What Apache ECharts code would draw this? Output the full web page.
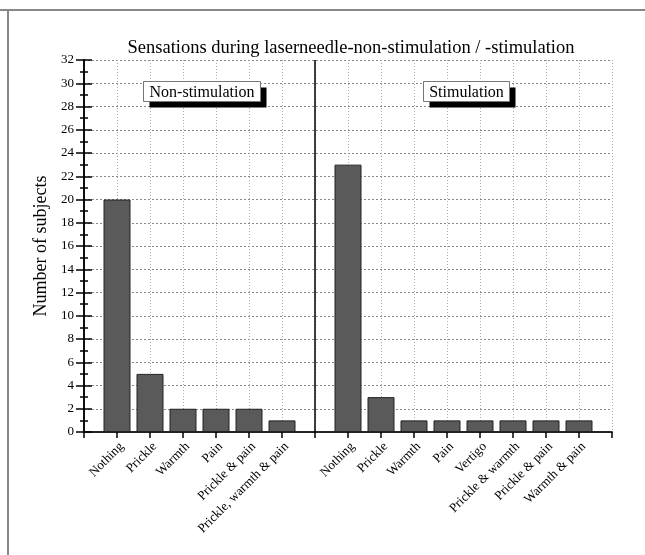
<!DOCTYPE html>
<html>
<head>
<meta charset="utf-8">
<script src="https://cdn.jsdelivr.net/npm/echarts@6/dist/echarts.min.js"></script>
<style>
  html, body { margin: 0; padding: 0; background: #fff; }
  #chart { width: 645px; height: 555px; }
</style>
</head>
<body>
<div id="chart"></div>
<script>
// x positions: 1..6 non-stimulation, 7 = divider, 8..15 stimulation
const nonStimLabels = ["Nothing", "Prickle", "Warmth", "Pain", "Prickle & pain", "Prickle, warmth & pain"];
const nonStimValues = [20, 5, 2, 2, 2, 1];
const stimLabels = ["Nothing", "Prickle", "Warmth", "Pain", "Vertigo", "Prickle & warmth", "Prickle & pain", "Warmth & pain"];
const stimValues = [23, 3, 1, 1, 1, 1, 1, 1];
const dividerPos = 7;
const yTicks = [0, 32, 2];

const serif = "'Liberation Serif', 'DejaVu Serif', serif";

const labelAt = {};
nonStimLabels.forEach((l, i) => labelAt[i + 1] = l);
stimLabels.forEach((l, i) => labelAt[dividerPos + 1 + i] = l);

const barData = [
  ...nonStimValues.map((v, i) => [i + 1, v]),
  ...stimValues.map((v, i) => [dividerPos + 1 + i, v]),
];
const xMax = dividerPos + stimLabels.length + 1;

const chart = echarts.init(document.getElementById("chart"));

// boxed captions with a hard black drop shadow
function caption(x, y, w, h, text) {
  return {
    type: "group", left: x, top: y, z: 100,
    children: [
      { type: "rect", z: 100, shape: { x: 6, y: 6, width: w, height: h }, style: { fill: "#000" } },
      { type: "rect", z: 101, shape: { x: 0, y: 0, width: w, height: h }, style: { fill: "#fff", stroke: "#777", lineWidth: 1 } },
      { type: "text", z: 102, x: w / 2, y: h / 2 + 1, style: { text, fontFamily: serif, fontSize: 16, fill: "#000", align: "center", verticalAlign: "middle" } },
    ],
  };
}

chart.setOption({
  animation: false,
  backgroundColor: "#fff",
  title: {
    text: "Sensations during laserneedle-non-stimulation / -stimulation",
    left: 346, top: 34, textAlign: "center",
    textStyle: { fontFamily: serif, fontSize: 18.5, fontWeight: "normal", color: "#000" },
  },
  grid: { left: 84, right: 33, top: 60, bottom: 123 },
  xAxis: [{
    type: "value", min: 0, max: xMax, interval: 1, position: "bottom",
    axisLine: { lineStyle: { color: "#777", width: 1.5 } },
    axisTick: { show: true, length: 6, inside: false, lineStyle: { color: "#000", width: 1.5 } },
    axisLabel: {
      rotate: 45, margin: 8, fontFamily: serif, fontSize: 13, color: "#000",
      verticalAlign: "top",
      showMinLabel: true, showMaxLabel: true,
      formatter: (v) => labelAt[v] || "",
    },
    splitLine: { show: true, lineStyle: { color: "#aaa", type: [1, 2], width: 1 } },
  }, {
    type: "value", min: 0, max: xMax, interval: 1, position: "top",
    axisLine: { show: true, lineStyle: { color: "#000", width: 1.5 } },
    axisTick: { show: true, inside: true, length: 6, lineStyle: { color: "#000", width: 1.5 } },
    axisLabel: { show: false },
    splitLine: { show: false },
  }],
  yAxis: [{
    type: "value", min: yTicks[0], max: yTicks[1], interval: yTicks[2],
    name: "Number of subjects", nameLocation: "middle", nameGap: 28, nameRotate: 90,
    nameTextStyle: { fontFamily: serif, fontSize: 18, color: "#000" },
    axisLine: { show: true, lineStyle: { color: "#000", width: 1.5 } },
    axisTick: { show: true, inside: true, length: 8, lineStyle: { color: "#000", width: 1.5 } },
    minorTick: { show: true, splitNumber: 2, length: 4, lineStyle: { color: "#000", width: 1.5 } },
    axisLabel: { fontFamily: serif, fontSize: 13, color: "#000", margin: 10 },
    splitLine: { show: true, lineStyle: { color: "#888", type: [2, 2], width: 1 } },
  }, {
    type: "value", min: yTicks[0], max: yTicks[1], interval: yTicks[2], position: "right",
    axisLine: { show: true, lineStyle: { color: "#000", width: 1.5 } },
    axisTick: { show: true, inside: true, length: 8, lineStyle: { color: "#000", width: 1.5 } },
    minorTick: { show: true, splitNumber: 2, length: 4, lineStyle: { color: "#000", width: 1.5 } },
    axisLabel: { show: false },
    splitLine: { show: false },
  }],
  series: [{
    type: "bar",
    data: barData,
    barWidth: 27,
    itemStyle: { color: "#5a5a5a", borderColor: "#222", borderWidth: 1 },
    markLine: {
      silent: true, symbol: "none", label: { show: false },
      lineStyle: { color: "#000", type: "solid", width: 1.5 },
      data: [{ xAxis: dividerPos }],
    },
  }],
  graphic: [
    { type: "line", shape: { x1: 0, y1: 10, x2: 645, y2: 10 }, style: { stroke: "#888", lineWidth: 2 } },
    { type: "line", shape: { x1: 8, y1: 10, x2: 8, y2: 555 }, style: { stroke: "#888", lineWidth: 2 } },
    caption(143, 81, 117, 20, "Non-stimulation"),
    caption(423, 81, 86, 20, "Stimulation"),
  ],
});
</script>
</body>
</html>
